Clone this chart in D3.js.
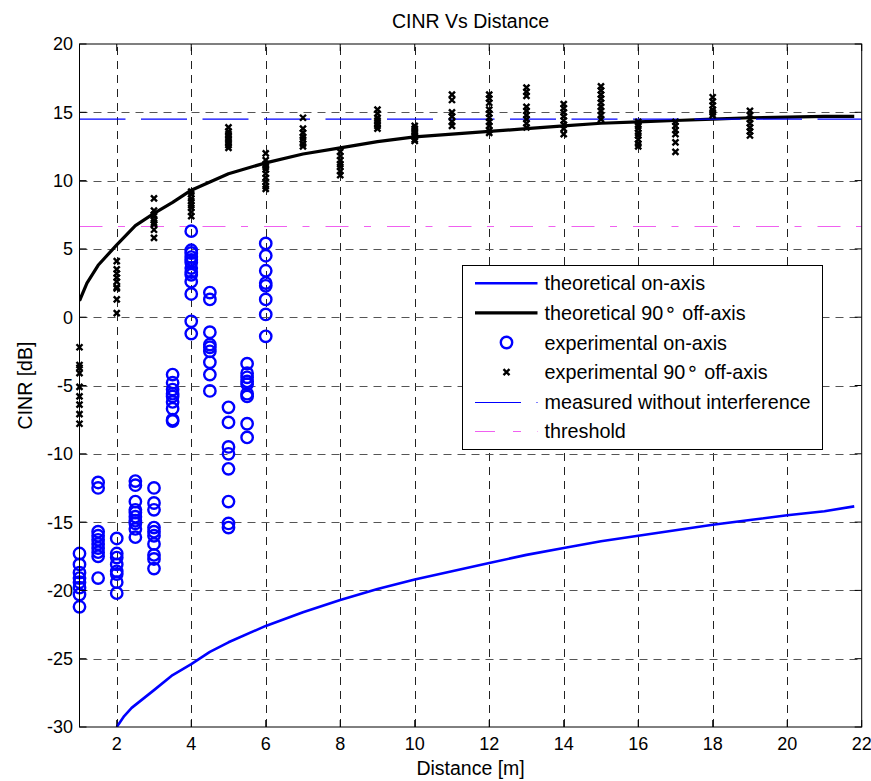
<!DOCTYPE html>
<html>
<head>
<meta charset="utf-8">
<script src="https://cdn.jsdelivr.net/npm/d3@7.9.0/dist/d3.min.js"></script>
<style>
  body { margin: 0; background: #fff; }
  svg text { font-family: "Liberation Sans", Arial, sans-serif; fill: #000; }
</style>
</head>
<body>
<div id="chart"></div>
<script>
// ---- data ----
const xTicks = [2, 4, 6, 8, 10, 12, 14, 16, 18, 20, 22];
const yTicks = [20, 15, 10, 5, 0, -5, -10, -15, -20, -25, -30];

// theoretical curves
const theoOnDist = [2, 2.2, 2.4, 3, 3.5, 4, 4.5, 5, 6, 7, 8, 9, 10, 11, 12, 13, 14, 15, 16, 17, 18, 19, 20, 21, 21.8];
const theoOnCinr = [-30, -29.2, -28.6, -27.3, -26.2, -25.4, -24.5, -23.8, -22.6, -21.6, -20.7, -19.9, -19.2, -18.6, -18.0, -17.4, -16.9, -16.4, -16.0, -15.6, -15.2, -14.85, -14.5, -14.2, -13.85];

const theoOffDist = [1, 1.2, 1.5, 2, 2.5, 3, 3.5, 4, 4.5, 5, 5.5, 6, 7, 8, 9, 10, 11, 12, 13, 14, 15, 16, 17, 18, 19, 20, 21, 21.8];
const theoOffCinr = [1.2, 2.5, 3.8, 5.3, 6.7, 7.6, 8.4, 9.3, 9.9, 10.5, 10.9, 11.3, 11.95, 12.4, 12.85, 13.2, 13.4, 13.6, 13.8, 14.0, 14.2, 14.3, 14.4, 14.5, 14.6, 14.65, 14.7, 14.7];

// experimental on-axis (circles)
const onAxisDist = [1, 1.5, 2, 2.5, 3, 3.5, 4, 4.5, 5, 5.5, 6];
const onAxisCinr = [
  [-17.3, -18.1, -18.7, -19.1, -19.4, -19.8, -20.3, -21.2],
  [-12.1, -12.5, -15.7, -16.0, -16.3, -16.6, -16.9, -17.2, -17.5, -19.1],
  [-16.2, -17.3, -17.6, -18.1, -18.6, -18.8, -19.4, -20.2],
  [-12.0, -12.3, -13.5, -14.1, -14.3, -14.6, -14.9, -15.1, -15.5, -16.1],
  [-12.5, -13.6, -14.1, -15.4, -15.7, -16.0, -16.6, -17.4, -17.7, -18.4],
  [-4.2, -4.8, -5.3, -5.6, -5.8, -6.2, -6.7, -7.5, -7.6],
  [6.3, 4.9, 4.7, 4.4, 4.2, 4.0, 3.6, 3.3, 3.1, 2.6, 1.7, -0.3, -1.2],
  [1.8, 1.3, -1.1, -2.0, -2.2, -2.5, -3.3, -4.2, -5.4],
  [-6.6, -7.7, -9.5, -10.0, -11.1, -13.5, -15.1, -15.4],
  [-3.4, -4.1, -4.4, -4.7, -4.9, -5.6, -5.8, -7.8, -8.8],
  [5.4, 4.5, 3.4, 2.5, 2.3, 1.3, 0.2, -1.4]
];

// experimental 90deg off-axis (crosses)
const offAxisDist = [1, 2, 3, 4, 5, 6, 7, 8, 9, 10, 11, 12, 13, 14, 15, 16, 17, 18, 19];
const offAxisCinr = [
  [-2.2, -3.5, -3.7, -4.1, -5.1, -5.8, -6.4, -7.1, -7.8],
  [4.1, 3.5, 3.2, 2.9, 2.6, 2.2, 2.1, 1.3, 0.3],
  [8.7, 7.8, 7.5, 7.4, 7.1, 6.9, 6.8, 6.4, 5.8],
  [9.2, 9.0, 8.7, 8.5, 8.2, 8.0, 7.7, 7.4],
  [13.9, 13.6, 13.4, 13.2, 13.0, 12.8, 12.6, 12.4],
  [12.0, 11.5, 11.2, 11.0, 10.8, 10.5, 10.2, 9.9, 9.6, 9.4],
  [14.6, 13.8, 13.5, 13.2, 13.0, 12.7, 12.5],
  [12.1, 11.8, 11.5, 11.2, 11.0, 10.7, 10.4],
  [15.2, 14.9, 14.6, 14.4, 14.2, 14.0, 13.8],
  [14.0, 13.8, 13.6, 13.4, 13.2, 13.0, 12.9],
  [16.3, 15.9, 15.0, 14.7, 14.3, 14.0],
  [16.3, 16.0, 15.7, 15.2, 14.9, 14.6, 14.3, 14.0, 13.7, 13.5],
  [16.8, 16.5, 16.2, 15.4, 15.1, 14.8, 14.5, 14.2, 13.9],
  [15.6, 15.3, 15.0, 14.7, 14.4, 14.1, 13.8, 13.4],
  [16.9, 16.6, 16.3, 16.0, 15.7, 15.4, 15.1, 14.8, 14.5],
  [14.3, 14.0, 13.8, 13.5, 13.3, 13.0, 12.7, 12.5],
  [14.3, 14.0, 13.7, 13.4, 12.8, 12.1],
  [16.1, 15.8, 15.5, 15.2, 15.0, 14.8],
  [15.1, 14.8, 14.5, 14.2, 13.9, 13.6, 13.3]
];

const measuredLevel = 14.5;   // measured without interference
const thresholdLevel = 6.7;   // threshold

// legend labels; the ring is drawn raised like MATLAB's \circ
const legendNames = [
  ['theoretical on-axis'],
  ['theoretical 90', '\u2218', ' off-axis'],
  ['experimental on-axis'],
  ['experimental 90', '\u2218', ' off-axis'],
  ['measured without interference'],
  ['threshold']
];

// ---- layout ----
const W = 871, H = 781;
const plot = { left: 79.5, right: 861.7, top: 44, bottom: 727 };

const svg = d3.select('#chart').append('svg')
  .attr('width', W).attr('height', H)
  .attr('viewBox', `0 0 ${W} ${H}`);

const x = d3.scaleLinear().domain([1, 22]).range([plot.left, plot.right]);
const y = d3.scaleLinear().domain([-30, 20]).range([plot.bottom, plot.top]);
const px = v => Math.round(v) + 0.5;   // crisp 1px lines

svg.append('rect').attr('width', W).attr('height', H).attr('fill', '#fff');

svg.append('clipPath').attr('id', 'clip')
  .append('rect')
  .attr('x', plot.left).attr('y', plot.top)
  .attr('width', plot.right - plot.left).attr('height', plot.bottom - plot.top);

// grid
const grid = svg.append('g').attr('class', 'grid')
  .attr('stroke', '#222').attr('stroke-width', 1).attr('stroke-dasharray', '8,6');
grid.selectAll('line.v').data(xTicks.filter(d => d < 22)).join('line')
  .attr('class', 'v')
  .attr('x1', d => px(x(d))).attr('x2', d => px(x(d)))
  .attr('y1', plot.bottom).attr('y2', plot.top);
grid.selectAll('line.h').data(yTicks.filter(d => d > -30 && d < 20)).join('line')
  .attr('class', 'h')
  .attr('stroke', '#555')
  .attr('x1', plot.left).attr('x2', plot.right)
  .attr('y1', d => px(y(d))).attr('y2', d => px(y(d)));

const data = svg.append('g').attr('clip-path', 'url(#clip)');

const line = d3.line().x(d => x(d[0])).y(d => y(d[1]));

// theoretical on-axis
data.append('path')
  .datum(d3.zip(theoOnDist, theoOnCinr))
  .attr('fill', 'none').attr('stroke', '#0000ff').attr('stroke-width', 2.6)
  .attr('stroke-linejoin', 'round')
  .attr('d', line);

// theoretical off-axis
data.append('path')
  .datum(d3.zip(theoOffDist, theoOffCinr))
  .attr('fill', 'none').attr('stroke', '#000').attr('stroke-width', 3.2)
  .attr('stroke-linejoin', 'round')
  .attr('d', line);

// experimental on-axis circles (markers are not clipped)
const onPts = onAxisDist.flatMap((d, i) => onAxisCinr[i].map(v => [d, v]));
svg.append('g').selectAll('circle').data(onPts).join('circle')
  .attr('cx', d => x(d[0])).attr('cy', d => y(d[1]))
  .attr('r', 5.7)
  .attr('fill', 'none').attr('stroke', '#0000ff').attr('stroke-width', 2.4);

// experimental off-axis crosses
const crossPath = 'M-3,-3L3,3M-3,3L3,-3';
const offPts = offAxisDist.flatMap((d, i) => offAxisCinr[i].map(v => [d, v]));
svg.append('g').selectAll('path').data(offPts).join('path')
  .attr('transform', d => `translate(${x(d[0])},${y(d[1])})`)
  .attr('d', crossPath)
  .attr('fill', 'none').attr('stroke', '#000').attr('stroke-width', 2.4);

// horizontal reference lines
data.append('line')
  .attr('x1', plot.left).attr('x2', plot.right)
  .attr('y1', y(measuredLevel)).attr('y2', y(measuredLevel))
  .attr('stroke', '#0000ff').attr('stroke-width', 1.2)
  .attr('stroke-dasharray', '46,15.5');
data.append('line')
  .attr('x1', plot.left).attr('x2', plot.right)
  .attr('y1', px(y(thresholdLevel))).attr('y2', px(y(thresholdLevel)))
  .attr('stroke', '#f060f0').attr('stroke-width', 1)
  .attr('stroke-dasharray', '23,15.5,7,16');

// axes box + inward ticks
const axes = svg.append('g').attr('stroke', '#000').attr('stroke-width', 1).attr('fill', 'none');
axes.append('rect')
  .attr('x', plot.left).attr('y', plot.top)
  .attr('width', plot.right - plot.left).attr('height', plot.bottom - plot.top);
const tickLen = 7;
axes.selectAll('line.xb').data(xTicks).join('line').attr('class', 'xb')
  .attr('x1', d => x(d)).attr('x2', d => x(d))
  .attr('y1', plot.bottom).attr('y2', plot.bottom - tickLen);
axes.selectAll('line.xt').data(xTicks).join('line').attr('class', 'xt')
  .attr('x1', d => x(d)).attr('x2', d => x(d))
  .attr('y1', plot.top).attr('y2', plot.top + tickLen);
axes.selectAll('line.yl').data(yTicks).join('line').attr('class', 'yl')
  .attr('x1', plot.left).attr('x2', plot.left + tickLen)
  .attr('y1', d => y(d)).attr('y2', d => y(d));
axes.selectAll('line.yr').data(yTicks).join('line').attr('class', 'yr')
  .attr('x1', plot.right).attr('x2', plot.right - tickLen)
  .attr('y1', d => y(d)).attr('y2', d => y(d));

// tick labels
svg.append('g').selectAll('text').data(xTicks).join('text')
  .attr('x', d => x(d)).attr('y', 750)
  .attr('text-anchor', 'middle').style('font-size', '18px')
  .text(d => d);
svg.append('g').selectAll('text').data(yTicks).join('text')
  .attr('x', 73).attr('y', d => y(d)).attr('dy', '0.36em')
  .attr('text-anchor', 'end').style('font-size', '18px')
  .text(d => d);

// titles
svg.append('text').attr('x', (plot.left + plot.right) / 2).attr('y', 28)
  .attr('text-anchor', 'middle').style('font-size', '19.5px')
  .text('CINR Vs Distance');
svg.append('text').attr('x', (plot.left + plot.right) / 2).attr('y', 775)
  .attr('text-anchor', 'middle').style('font-size', '19.5px')
  .text('Distance [m]');
svg.append('text')
  .attr('transform', `translate(32,${(plot.top + plot.bottom) / 2}) rotate(-90)`)
  .attr('text-anchor', 'middle').style('font-size', '19.5px')
  .text('CINR [dB]');

// legend
const lg = svg.append('g');
lg.append('rect')
  .attr('x', 462.5).attr('y', 265.5).attr('width', 360).attr('height', 184)
  .attr('fill', '#fff').attr('stroke', '#000').attr('stroke-width', 1);
const rowY = i => 283.3 + i * 29.6;
const sx0 = 475, sx1 = 537.5, sxm = 506.5;

lg.append('line').attr('x1', sx0).attr('x2', sx1).attr('y1', rowY(0)).attr('y2', rowY(0))
  .attr('stroke', '#0000ff').attr('stroke-width', 2.6);
lg.append('line').attr('x1', sx0).attr('x2', sx1).attr('y1', rowY(1)).attr('y2', rowY(1))
  .attr('stroke', '#000').attr('stroke-width', 3.2);
lg.append('circle').attr('cx', sxm).attr('cy', rowY(2)).attr('r', 5.7)
  .attr('fill', 'none').attr('stroke', '#0000ff').attr('stroke-width', 2.4);
lg.append('path').attr('transform', `translate(${sxm},${rowY(3)})`).attr('d', crossPath)
  .attr('fill', 'none').attr('stroke', '#000').attr('stroke-width', 2.4);
lg.append('line').attr('x1', sx0).attr('x2', sx1).attr('y1', px(rowY(4))).attr('y2', px(rowY(4)))
  .attr('stroke', '#0000ff').attr('stroke-width', 1).attr('stroke-dasharray', '46,15.5');
lg.append('line').attr('x1', sx0).attr('x2', sx1).attr('y1', px(rowY(5))).attr('y2', px(rowY(5)))
  .attr('stroke', '#f060f0').attr('stroke-width', 1).attr('stroke-dasharray', '20,18,8,16');

const labels = lg.selectAll('text').data(legendNames).join('text')
  .attr('x', 544.5).attr('y', (d, i) => rowY(i)).attr('dy', '0.36em')
  .style('font-size', '19.8px');
labels.each(function (parts) {
  const t = d3.select(this);
  parts.forEach((p, j) => {
    const s = t.append('tspan').text(p);
    if (p === '\u2218') {
      s.attr('dx', '1').attr('dy', '-0.22em')
        .style('font-family', '"DejaVu Sans", sans-serif');
    } else if (j > 0) {
      s.attr('dy', '0.22em');
    }
  });
});
</script>
</body>
</html>
